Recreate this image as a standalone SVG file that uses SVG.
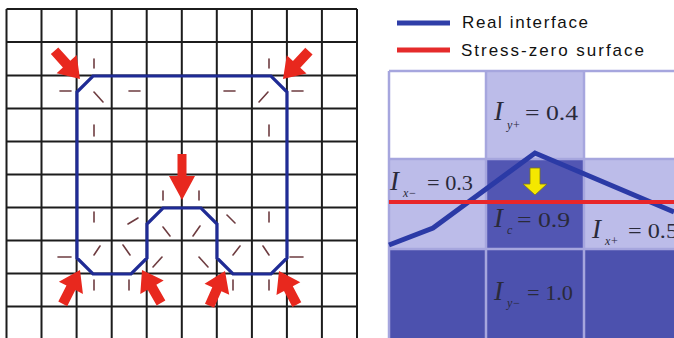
<svg xmlns="http://www.w3.org/2000/svg" width="674" height="338" viewBox="0 0 674 338">
<style>
.grid{stroke:#1c1c1c;stroke-width:2;fill:none}
.iface{stroke:#1f2b95;stroke-width:3.2;fill:none;stroke-linejoin:miter}
.tick{stroke:#6e3c40;stroke-width:1.6;stroke-linecap:round}
.arr{fill:#e8281e}
.leg{font-family:"Liberation Sans",Arial,sans-serif;font-size:17px;fill:#111}
.cellL{fill:#bcbce9}
.cellD{fill:#5256b3}
.cellB{fill:#4c51ae}
.div{stroke:#a6a6de;stroke-width:2.5;fill:none}
.I{font-family:"Liberation Serif","Times New Roman",serif;font-style:italic;font-size:27px;fill:#2a2a3a}
.sub{font-family:"Liberation Serif","Times New Roman",serif;font-style:italic;font-size:12px;fill:#2a2a3a}
.num{font-family:"Liberation Serif","Times New Roman",serif;font-size:20px;fill:#2a2a3a}
</style>
<defs>
<polygon id="ra" points="-38,-5 -20,-5 -20,-13.5 0,0 -20,13.5 -20,5 -38,5"/>
<polygon id="rb" points="-46,-4.5 -24,-4.5 -24,-13 0,0 -24,13 -24,4.5 -46,4.5"/>
</defs>
<rect width="674" height="338" fill="#fff"/>

<g id="left-grid">
<path class="grid" d="M6.5,9V338M41.5,9V338M76.6,9V338M111.7,9V338M146.7,9V338M181.8,9V338M216.8,9V338M251.9,9V338M286.9,9V338M321.9,9V338M357,9V338"/>
<path class="grid" d="M6.5,9H357M6.5,42H357M6.5,75.5H357M6.5,108.5H357M6.5,141.5H357M6.5,174.5H357M6.5,207.5H357M6.5,240.5H357M6.5,273.5H357M6.5,306.5H357"/>
</g>

<g id="normals">
<line class="tick" x1="94" y1="59" x2="94" y2="68"/>
<line class="tick" x1="60" y1="91" x2="71" y2="91"/>
<line class="tick" x1="94" y1="92" x2="103" y2="102"/>
<line class="tick" x1="129" y1="91" x2="140" y2="91"/>
<line class="tick" x1="224" y1="91" x2="235" y2="91"/>
<line class="tick" x1="269" y1="59" x2="269" y2="68"/>
<line class="tick" x1="292" y1="91" x2="303" y2="91"/>
<line class="tick" x1="268" y1="92" x2="259" y2="102"/>
<line class="tick" x1="94" y1="125" x2="94" y2="136"/>
<line class="tick" x1="269" y1="125" x2="269" y2="136"/>
<line class="tick" x1="163" y1="191" x2="163" y2="200"/>
<line class="tick" x1="199" y1="191" x2="199" y2="200"/>
<line class="tick" x1="94" y1="212" x2="94" y2="222"/>
<line class="tick" x1="269" y1="212" x2="269" y2="222"/>
<line class="tick" x1="128" y1="224" x2="138" y2="218"/>
<line class="tick" x1="163" y1="227" x2="170" y2="236"/>
<line class="tick" x1="200" y1="226" x2="193" y2="236"/>
<line class="tick" x1="227" y1="215" x2="235" y2="223"/>
<line class="tick" x1="94" y1="255" x2="100" y2="246"/>
<line class="tick" x1="123" y1="245" x2="130" y2="255"/>
<line class="tick" x1="153" y1="267" x2="162" y2="257"/>
<line class="tick" x1="199" y1="257" x2="208" y2="267"/>
<line class="tick" x1="233" y1="255" x2="240" y2="246"/>
<line class="tick" x1="263" y1="246" x2="269" y2="255"/>
<line class="tick" x1="58" y1="257" x2="71" y2="257"/>
<line class="tick" x1="290" y1="257" x2="303" y2="257"/>
<line class="tick" x1="94" y1="280" x2="94" y2="290"/>
<line class="tick" x1="129" y1="280" x2="129" y2="290"/>
<line class="tick" x1="233" y1="280" x2="233" y2="290"/>
<line class="tick" x1="269" y1="280" x2="269" y2="290"/>
</g>

<g id="interface-left">
<path class="iface" d="M93,76 L271,76 L287,92 L287,258 L271,274 L233,274 L217,258 L217,224 L201,208 L163,208 L147,224 L147,258 L131,274 L93,274 L77,258 L77,92 Z"/>
</g>

<g id="arrows">
<use href="#ra" class="arr" transform="translate(80,79) rotate(48)"/>
<use href="#ra" class="arr" transform="translate(283,79) rotate(133)"/>
<use href="#rb" class="arr" transform="translate(182,200) rotate(90)"/>
<use href="#ra" class="arr" transform="translate(80,270) rotate(-63)"/>
<use href="#ra" class="arr" transform="translate(142,270) rotate(-120)"/>
<use href="#ra" class="arr" transform="translate(225,271) rotate(-66)"/>
<use href="#ra" class="arr" transform="translate(279,271) rotate(-118)"/>
</g>

<g id="legend">
<line x1="397" y1="23" x2="450" y2="23" stroke="#2f3ea8" stroke-width="5"/>
<text class="leg" x="462" y="28" textLength="126" lengthAdjust="spacing">Real interface</text>
<line x1="397" y1="50" x2="450" y2="50" stroke="#e52b2b" stroke-width="5"/>
<text class="leg" x="461" y="56" textLength="183" lengthAdjust="spacing">Stress-zero surface</text>
</g>

<g id="right-cells">
<rect x="389" y="71" width="97" height="88" fill="#fff"/>
<rect x="486" y="71" width="98" height="88" class="cellL"/>
<rect x="584" y="71" width="90" height="88" fill="#fff"/>
<rect x="389" y="159" width="97" height="90" class="cellL"/>
<rect x="486" y="159" width="98" height="90" class="cellD"/>
<rect x="584" y="159" width="90" height="90" class="cellL"/>
<rect x="389" y="249" width="285" height="89" class="cellB"/>
<path class="div" d="M389,71V338M486,71V338M584,71V338M389,71H674M389,159H674M389,249H674"/>
</g>

<g id="interface-right">
<polyline points="389,245 433,228 535,153 674,212" fill="none" stroke="#2b3aa6" stroke-width="5" stroke-linejoin="miter"/>
<line x1="389" y1="202" x2="674" y2="202" stroke="#e8262a" stroke-width="4"/>
<polygon points="530,168 540,168 540,184 547,184 535,195 523,184 530,184" fill="#f4e800" stroke="#7a7420" stroke-width="0.8"/>
</g>

<g id="labels">
<text class="I" x="494" y="120">I</text><text class="sub" x="507" y="129">y+</text><text class="num" x="525" y="120" textLength="53" lengthAdjust="spacingAndGlyphs">= 0.4</text>
<text class="I" x="390" y="190">I</text><text class="sub" x="403" y="197">x−</text><text class="num" x="427" y="190" textLength="46" lengthAdjust="spacingAndGlyphs">= 0.3</text>
<text class="I" x="494" y="227">I</text><text class="sub" x="507" y="234">c</text><text class="num" x="517" y="227" textLength="53" lengthAdjust="spacingAndGlyphs">= 0.9</text>
<text class="I" x="592" y="238">I</text><text class="sub" x="605" y="245">x+</text><text class="num" x="628" y="238" textLength="50" lengthAdjust="spacingAndGlyphs">= 0.5</text>
<text class="I" x="494" y="300">I</text><text class="sub" x="507" y="307">y−</text><text class="num" x="527" y="300" textLength="46" lengthAdjust="spacingAndGlyphs">= 1.0</text>
</g>
</svg>
